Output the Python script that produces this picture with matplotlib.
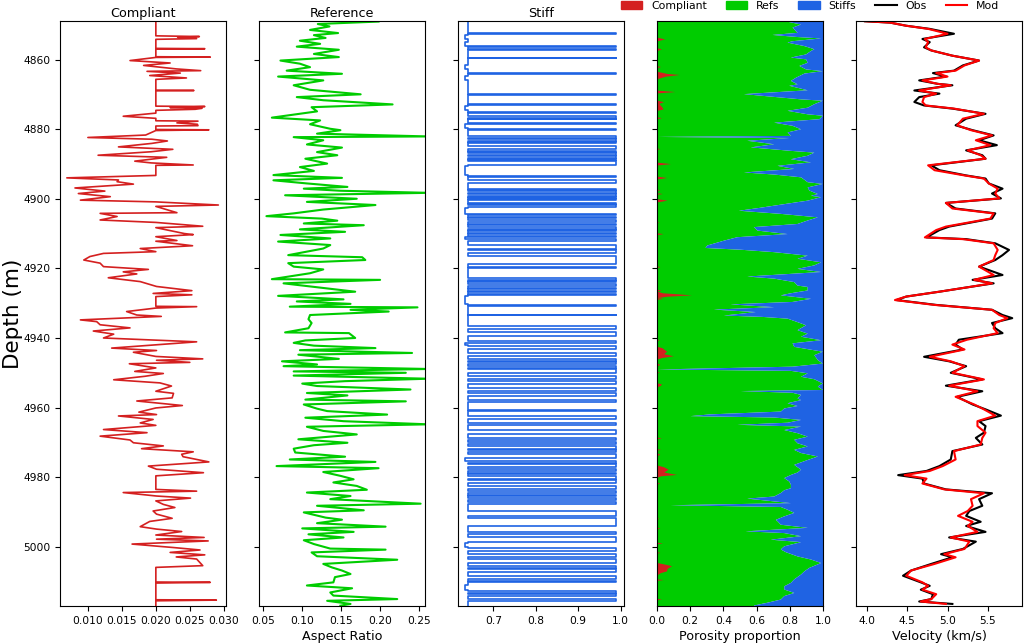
import numpy as np
import matplotlib
matplotlib.use("Agg")
from matplotlib import pyplot as plt
from matplotlib.patches import Patch
from matplotlib.lines import Line2D

# ---- data (depth in m) ----
compliant = [
    (4849.0, 0.0200), (4853.2, 0.0200), (4853.4, 0.0264), (4853.6, 0.0232), (4854.0, 0.0260),
    (4854.2, 0.0200), (4856.8, 0.0200), (4856.9, 0.0272), (4857.0, 0.0200), (4859.2, 0.0200),
    (4859.3, 0.0280), (4859.4, 0.0200), (4860.3, 0.0162), (4861.0, 0.0221), (4861.7, 0.0182),
    (4862.7, 0.0230), (4863.2, 0.0266), (4863.4, 0.0187), (4863.9, 0.0236), (4864.6, 0.0191),
    (4865.3, 0.0245), (4865.7, 0.0200), (4868.8, 0.0200), (4868.9, 0.0256), (4869.0, 0.0200),
    (4873.4, 0.0200), (4873.5, 0.0272), (4873.8, 0.0221), (4874.0, 0.0268), (4874.3, 0.0258),
    (4874.6, 0.0200), (4875.4, 0.0200), (4876.3, 0.0152), (4876.9, 0.0200), (4877.6, 0.0200),
    (4877.7, 0.0262), (4878.2, 0.0231), (4878.6, 0.0261), (4879.0, 0.0262), (4879.1, 0.0200),
    (4880.1, 0.0200), (4880.2, 0.0278), (4880.4, 0.0200), (4881.7, 0.0185), (4882.4, 0.0100),
    (4882.9, 0.0194), (4883.4, 0.0217), (4884.1, 0.0194), (4885.1, 0.0145), (4885.8, 0.0225),
    (4886.5, 0.0193), (4887.5, 0.0115), (4888.1, 0.0216), (4889.2, 0.0169), (4889.7, 0.0193),
    (4890.3, 0.0255), (4890.4, 0.0200), (4893.3, 0.0200), (4894.0, 0.0069), (4894.6, 0.0145),
    (4895.1, 0.0143), (4895.8, 0.0167), (4896.9, 0.0081), (4897.8, 0.0125), (4898.5, 0.0086),
    (4899.4, 0.0133), (4900.4, 0.0089), (4900.9, 0.0200), (4901.8, 0.0292), (4902.2, 0.0200),
    (4904.0, 0.0231), (4904.2, 0.0118), (4905.1, 0.0143), (4906.1, 0.0118), (4906.8, 0.0200),
    (4907.9, 0.0269), (4908.3, 0.0200), (4910.0, 0.0242), (4910.3, 0.0255), (4910.9, 0.0200),
    (4912.0, 0.0231), (4912.2, 0.0200), (4913.5, 0.0254), (4914.3, 0.0177), (4915.2, 0.0200),
    (4915.7, 0.0123), (4916.6, 0.0103), (4917.6, 0.0094), (4918.5, 0.0118), (4919.5, 0.0123),
    (4920.3, 0.0189), (4921.0, 0.0152), (4921.6, 0.0172), (4922.7, 0.0130), (4923.8, 0.0177),
    (4925.2, 0.0201), (4926.4, 0.0253), (4927.2, 0.0196), (4927.6, 0.0253), (4928.1, 0.0200),
    (4930.9, 0.0200), (4931.0, 0.0260), (4931.4, 0.0200), (4932.4, 0.0157), (4933.4, 0.0172),
    (4933.8, 0.0208), (4934.8, 0.0089), (4935.3, 0.0113), (4936.2, 0.0118), (4937.1, 0.0162),
    (4938.0, 0.0108), (4938.9, 0.0138), (4940.0, 0.0123), (4941.1, 0.0260), (4942.9, 0.0135),
    (4943.6, 0.0201), (4944.1, 0.0167), (4945.3, 0.0200), (4946.0, 0.0269), (4946.4, 0.0201),
    (4947.0, 0.0250), (4947.4, 0.0161), (4948.6, 0.0200), (4949.6, 0.0169), (4950.2, 0.0211),
    (4951.0, 0.0184), (4952.0, 0.0138), (4952.9, 0.0206), (4953.8, 0.0223), (4955.3, 0.0200),
    (4955.9, 0.0226), (4957.2, 0.0224), (4958.1, 0.0172), (4959.4, 0.0239), (4960.1, 0.0200),
    (4961.3, 0.0175), (4962.0, 0.0201), (4962.4, 0.0145), (4963.4, 0.0196), (4964.4, 0.0177),
    (4965.1, 0.0200), (4966.3, 0.0123), (4967.2, 0.0187), (4968.2, 0.0118), (4969.3, 0.0162),
    (4970.1, 0.0167), (4971.0, 0.0211), (4971.8, 0.0179), (4972.7, 0.0255), (4973.4, 0.0238),
    (4974.1, 0.0240), (4975.6, 0.0278), (4976.8, 0.0189), (4977.7, 0.0201), (4978.7, 0.0270),
    (4979.6, 0.0200), (4983.5, 0.0200), (4984.0, 0.0260), (4984.4, 0.0152), (4985.4, 0.0201),
    (4986.0, 0.0251), (4986.8, 0.0200), (4987.8, 0.0211), (4988.7, 0.0228), (4989.7, 0.0196),
    (4990.6, 0.0201), (4991.8, 0.0224), (4992.7, 0.0191), (4994.2, 0.0177), (4994.9, 0.0201),
    (4995.6, 0.0238), (4996.6, 0.0200), (4997.3, 0.0271), (4997.8, 0.0201), (4998.3, 0.0277),
    (4999.2, 0.0165), (5000.2, 0.0226), (5000.9, 0.0265), (5001.6, 0.0221), (5002.3, 0.0272),
    (5002.9, 0.0230), (5003.5, 0.0260), (5005.4, 0.0269), (5005.9, 0.0200), (5010.1, 0.0200),
    (5010.2, 0.0280), (5010.4, 0.0200), (5015.2, 0.0200), (5015.3, 0.0289), (5015.5, 0.0200),
    (5017.0, 0.0200),
]

reference = [
    (4849.1, 0.198), (4849.8, 0.120), (4850.5, 0.135), (4851.5, 0.110), (4852.4, 0.146),
    (4853.0, 0.115), (4853.8, 0.130), (4854.6, 0.097), (4855.5, 0.123), (4856.3, 0.093),
    (4857.2, 0.147), (4858.4, 0.115), (4859.3, 0.147), (4860.3, 0.072), (4861.2, 0.097),
    (4862.2, 0.110), (4863.2, 0.080), (4864.1, 0.151), (4864.9, 0.069), (4866.0, 0.127),
    (4867.4, 0.089), (4868.7, 0.110), (4870.0, 0.175), (4870.8, 0.093), (4871.7, 0.127),
    (4872.9, 0.216), (4873.7, 0.112), (4874.9, 0.119), (4876.0, 0.084), (4876.7, 0.061),
    (4877.5, 0.123), (4878.6, 0.110), (4879.9, 0.136), (4880.3, 0.149), (4881.3, 0.119),
    (4882.1, 0.262), (4882.3, 0.089), (4883.2, 0.127), (4884.4, 0.106), (4885.3, 0.151),
    (4886.6, 0.119), (4887.5, 0.145), (4888.5, 0.104), (4889.9, 0.132), (4890.9, 0.097),
    (4892.0, 0.115), (4893.2, 0.063), (4894.0, 0.151), (4894.7, 0.063), (4895.6, 0.106),
    (4896.6, 0.158), (4897.1, 0.102), (4897.7, 0.149), (4898.3, 0.262), (4899.0, 0.078),
    (4900.0, 0.170), (4900.9, 0.106), (4901.8, 0.194), (4903.1, 0.127), (4904.2, 0.089),
    (4905.0, 0.054), (4905.7, 0.125), (4906.3, 0.145), (4907.1, 0.102), (4907.6, 0.179),
    (4908.8, 0.097), (4909.5, 0.155), (4910.4, 0.072), (4911.4, 0.136), (4912.3, 0.069),
    (4913.3, 0.136), (4914.3, 0.127), (4916.2, 0.082), (4916.8, 0.177), (4917.6, 0.181),
    (4918.5, 0.082), (4919.5, 0.089), (4920.3, 0.127), (4921.4, 0.110), (4923.1, 0.061),
    (4923.3, 0.200), (4924.3, 0.076), (4925.7, 0.130), (4926.7, 0.168), (4927.9, 0.069),
    (4928.9, 0.153), (4929.5, 0.093), (4930.2, 0.162), (4931.0, 0.084), (4931.2, 0.248),
    (4931.9, 0.162), (4932.4, 0.211), (4933.4, 0.110), (4934.6, 0.108), (4935.7, 0.112),
    (4937.2, 0.108), (4938.4, 0.078), (4938.6, 0.160), (4940.0, 0.168), (4940.7, 0.104),
    (4941.4, 0.089), (4942.2, 0.115), (4942.9, 0.194), (4943.5, 0.097), (4944.3, 0.241),
    (4944.8, 0.095), (4946.0, 0.147), (4946.7, 0.074), (4947.6, 0.119), (4948.1, 0.076),
    (4948.9, 0.262), (4949.6, 0.089), (4950.0, 0.233), (4950.8, 0.089), (4951.7, 0.262),
    (4952.4, 0.155), (4953.1, 0.100), (4953.8, 0.119), (4954.8, 0.239), (4955.8, 0.106),
    (4956.5, 0.158), (4957.7, 0.104), (4958.2, 0.233), (4959.1, 0.102), (4960.3, 0.119),
    (4961.0, 0.132), (4962.0, 0.209), (4962.9, 0.104), (4963.9, 0.153), (4964.8, 0.262),
    (4965.5, 0.106), (4966.7, 0.127), (4967.7, 0.170), (4969.1, 0.095), (4970.1, 0.158),
    (4970.8, 0.115), (4971.8, 0.089), (4972.9, 0.091), (4974.1, 0.155), (4974.9, 0.084),
    (4975.6, 0.194), (4976.8, 0.067), (4977.4, 0.198), (4978.5, 0.127), (4979.6, 0.149),
    (4980.6, 0.166), (4981.5, 0.140), (4982.5, 0.170), (4983.6, 0.183), (4984.4, 0.106),
    (4985.4, 0.162), (4986.3, 0.136), (4987.6, 0.252), (4988.2, 0.119), (4989.5, 0.179),
    (4990.1, 0.102), (4991.6, 0.130), (4992.2, 0.151), (4993.2, 0.119), (4994.2, 0.207),
    (4994.7, 0.100), (4995.7, 0.166), (4996.4, 0.108), (4997.3, 0.153), (4998.1, 0.102),
    (4999.2, 0.115), (5000.5, 0.136), (5000.8, 0.207), (5001.6, 0.112), (5002.7, 0.119),
    (5003.7, 0.222), (5004.9, 0.127), (5005.9, 0.138), (5006.8, 0.151), (5007.8, 0.162),
    (5008.7, 0.142), (5010.2, 0.140), (5011.1, 0.106), (5011.9, 0.164), (5013.1, 0.136),
    (5014.0, 0.140), (5015.0, 0.222), (5015.5, 0.132), (5016.4, 0.162), (5016.9, 0.149),
]

# stiff aspect ratio: base level, high level and the depth intervals at each
stiff_base = 0.640
stiff_high = 0.990
stiff_low = 0.633
stiff_high_intervals = [
    (4852.4, 4852.7), (4856.2, 4856.4), (4857.1, 4857.4), (4859.5, 4859.7), (4864.0, 4864.2),
    (4870.0, 4870.2), (4872.9, 4873.1), (4875.1, 4875.3), (4876.3, 4876.7), (4877.0, 4877.2),
    (4878.2, 4878.4), (4880.1, 4880.3), (4882.0, 4882.5), (4882.9, 4883.4), (4883.7, 4884.0),
    (4884.9, 4885.6), (4886.2, 4886.5), (4886.9, 4887.3), (4887.8, 4888.3), (4888.6, 4888.8),
    (4889.1, 4890.2), (4893.5, 4893.8), (4894.5, 4895.4), (4897.2, 4897.6), (4897.9, 4898.4),
    (4898.7, 4899.3), (4899.5, 4899.7), (4900.2, 4900.4), (4901.1, 4901.4), (4901.9, 4902.4),
    (4904.5, 4904.8), (4905.1, 4905.6), (4906.0, 4906.6), (4907.2, 4907.5), (4908.0, 4908.6),
    (4909.0, 4909.4), (4909.8, 4910.2), (4910.6, 4910.9), (4911.7, 4912.0), (4913.3, 4914.5),
    (4914.8, 4915.6), (4916.4, 4918.8), (4919.5, 4920.0), (4922.9, 4923.2), (4923.6, 4924.0),
    (4924.5, 4925.1), (4925.5, 4926.0), (4926.4, 4926.9), (4927.3, 4927.6), (4930.4, 4930.7),
    (4933.3, 4933.5), (4936.5, 4937.4), (4938.4, 4939.3), (4941.0, 4941.4), (4942.2, 4943.3),
    (4944.3, 4945.1), (4946.0, 4946.5), (4946.9, 4947.6), (4948.0, 4948.6), (4948.9, 4950.0),
    (4951.0, 4951.9), (4952.4, 4953.1), (4954.3, 4955.3), (4955.8, 4956.7), (4957.7, 4958.4),
    (4960.6, 4961.0), (4962.4, 4963.4), (4964.5, 4965.1), (4966.3, 4967.7), (4968.7, 4969.3),
    (4969.9, 4970.5), (4971.0, 4971.8), (4972.2, 4972.8), (4973.3, 4974.4), (4975.3, 4975.8),
    (4976.3, 4977.0), (4977.5, 4978.3), (4978.7, 4979.0), (4979.6, 4980.4), (4980.8, 4981.6),
    (4982.5, 4983.5), (4984.0, 4984.4), (4985.0, 4985.5), (4986.0, 4986.6), (4987.0, 4987.8),
    (4989.7, 4991.1), (4991.6, 4994.0), (4995.7, 4996.4), (4997.3, 4998.7), (5000.2, 5001.1),
    (5002.1, 5003.0), (5003.5, 5004.5), (5005.4, 5006.0), (5006.5, 5007.3), (5008.3, 5009.3),
    (5009.7, 5010.2), (5012.6, 5013.2), (5013.6, 5014.0), (5015.0, 5015.5),
]
stiff_low_intervals = [
    (4853.1, 4854.1), (4855.0, 4856.0), (4861.7, 4862.7), (4864.6, 4865.8), (4873.3, 4874.6),
    (4878.6, 4879.8), (4890.5, 4893.3), (4902.6, 4904.3), (4911.0, 4911.5), (4928.0, 4930.2),
    (4941.5, 4942.0), (4974.5, 4975.2), (4998.8, 5000.0), (5011.0, 5012.4),
]

# porosity proportion: cumulative compliant + refs fraction (left edge of stiffs)
comp_refs_cum = [
    (4849.0, 0.784), (4849.8, 0.865), (4850.7, 0.814), (4852.2, 0.844), (4852.8, 0.693),
    (4853.4, 0.844), (4853.8, 0.986), (4854.6, 0.814), (4855.0, 0.784), (4856.0, 0.885),
    (4856.9, 0.945), (4857.4, 0.925), (4858.4, 0.895), (4859.3, 0.804), (4859.8, 0.895),
    (4860.8, 0.905), (4861.7, 0.855), (4862.7, 0.895), (4863.2, 0.996), (4863.9, 0.885),
    (4865.1, 0.834), (4866.0, 0.804), (4867.0, 0.844), (4867.4, 0.794), (4868.7, 0.905),
    (4869.8, 0.521), (4870.6, 0.703), (4871.3, 0.865), (4871.7, 0.996), (4872.7, 0.945),
    (4873.7, 0.905), (4874.6, 0.784), (4875.6, 0.905), (4876.0, 0.996), (4877.0, 0.976),
    (4878.0, 0.703), (4878.9, 0.814), (4879.9, 0.865), (4880.8, 0.784), (4881.8, 0.804),
    (4882.1, 0.000), (4882.4, 0.794), (4883.2, 0.541), (4884.2, 0.703), (4885.1, 0.562),
    (4886.1, 0.804), (4886.6, 0.945), (4887.5, 0.905), (4888.5, 0.804), (4889.4, 0.925),
    (4890.4, 0.723), (4891.3, 0.824), (4892.3, 0.521), (4892.9, 0.703), (4893.7, 0.865),
    (4895.1, 0.905), (4895.6, 0.996), (4896.6, 0.905), (4897.5, 0.915), (4898.5, 0.966),
    (4899.0, 0.925), (4899.4, 0.986), (4900.4, 0.905), (4901.4, 0.764), (4902.5, 0.612),
    (4903.3, 0.491), (4904.2, 0.743), (4905.2, 0.966), (4906.1, 0.905), (4907.1, 0.844),
    (4908.0, 0.582), (4909.0, 0.602), (4910.0, 0.784), (4910.9, 0.481), (4911.9, 0.400),
    (4913.3, 0.299), (4914.0, 0.289), (4914.5, 0.501), (4915.2, 0.703), (4916.2, 0.905),
    (4917.1, 0.844), (4918.1, 0.986), (4919.0, 0.945), (4920.0, 0.844), (4920.9, 0.986),
    (4922.2, 0.541), (4922.8, 0.703), (4923.8, 0.824), (4924.8, 0.844), (4925.2, 0.905),
    (4926.2, 0.905), (4927.0, 0.804), (4927.6, 0.743), (4928.6, 0.925), (4929.5, 0.814),
    (4930.2, 0.440), (4931.0, 0.703), (4931.7, 0.339), (4932.4, 0.592), (4932.9, 0.501),
    (4933.4, 0.400), (4933.8, 0.632), (4934.3, 0.784), (4935.3, 0.844), (4936.2, 0.895),
    (4937.6, 0.844), (4938.6, 0.905), (4939.5, 0.865), (4940.5, 0.986), (4941.4, 0.814),
    (4942.4, 0.824), (4943.8, 0.996), (4944.8, 0.945), (4946.2, 0.966), (4947.2, 0.996),
    (4948.1, 0.814), (4948.9, 0.000), (4949.3, 0.804), (4950.0, 0.905), (4951.0, 0.865),
    (4951.7, 0.945), (4952.9, 0.996), (4953.8, 0.966), (4954.8, 0.996), (4955.1, 0.501),
    (4955.6, 0.814), (4956.2, 0.865), (4957.2, 0.844), (4957.7, 0.865), (4958.6, 0.784),
    (4959.4, 0.844), (4960.1, 0.764), (4961.0, 0.743), (4961.8, 0.319), (4962.3, 0.198),
    (4962.7, 0.703), (4963.4, 0.865), (4964.2, 0.784), (4964.8, 0.481), (4965.3, 0.865),
    (4966.3, 0.764), (4967.2, 0.844), (4968.2, 0.905), (4969.1, 0.824), (4970.1, 0.844),
    (4971.0, 0.905), (4972.0, 0.824), (4972.9, 0.865), (4973.9, 0.966), (4974.9, 0.905),
    (4976.3, 0.824), (4977.7, 0.865), (4978.5, 0.844), (4979.2, 0.804), (4980.1, 0.764),
    (4981.1, 0.794), (4982.0, 0.804), (4983.0, 0.804), (4983.6, 0.764), (4984.4, 0.743),
    (4985.4, 0.703), (4986.0, 0.541), (4986.8, 0.703), (4987.3, 0.804), (4987.9, 0.077),
    (4988.4, 0.743), (4989.2, 0.784), (4990.1, 0.824), (4991.1, 0.764), (4992.1, 0.713),
    (4992.5, 0.723), (4993.5, 0.743), (4994.4, 0.905), (4995.4, 0.531), (4995.9, 0.764),
    (4996.8, 0.865), (4997.8, 0.683), (4998.5, 0.865), (4999.7, 0.764), (5000.6, 0.743),
    (5001.4, 0.774), (5002.6, 0.844), (5003.5, 0.925), (5004.5, 0.986), (5005.9, 0.915),
    (5006.9, 0.885), (5007.8, 0.865), (5009.2, 0.824), (5010.2, 0.804), (5011.2, 0.764),
    (5012.1, 0.764), (5013.1, 0.824), (5014.0, 0.764), (5015.0, 0.743), (5015.9, 0.663),
    (5016.7, 0.582), (5017.0, 0.580),
]

comp_frac = [
    (4849.0, 0.0), (4853.6, 0.0), (4854.1, 0.046), (4854.6, 0.0), (4856.6, 0.0), (4857.0, 0.026),
    (4857.4, 0.0), (4861.8, 0.0), (4862.0, 0.020), (4862.3, 0.0), (4863.4, 0.0), (4864.0, 0.060),
    (4864.3, 0.133), (4864.8, 0.050), (4865.5, 0.0), (4868.8, 0.0), (4869.2, 0.107), (4869.6, 0.0),
    (4871.7, 0.0), (4872.1, 0.040), (4872.6, 0.010), (4873.7, 0.030), (4874.2, 0.036), (4874.6, 0.0),
    (4876.5, 0.0), (4876.7, 0.026), (4877.0, 0.0), (4885.4, 0.0), (4885.6, 0.016), (4885.8, 0.0),
    (4889.5, 0.0), (4889.9, 0.081), (4890.3, 0.0), (4893.5, 0.0), (4893.9, 0.057), (4894.3, 0.0),
    (4897.2, 0.0), (4897.4, 0.016), (4897.6, 0.0), (4898.3, 0.0), (4898.5, 0.032), (4898.7, 0.0),
    (4900.0, 0.0), (4900.4, 0.061), (4900.9, 0.0), (4906.5, 0.0), (4906.6, 0.010), (4906.8, 0.0),
    (4909.8, 0.0), (4910.0, 0.036), (4910.3, 0.0), (4919.3, 0.0), (4919.5, 0.016), (4919.7, 0.0),
    (4926.0, 0.0), (4926.2, 0.026), (4926.5, 0.0), (4927.0, 0.030), (4927.6, 0.208), (4928.0, 0.060),
    (4928.4, 0.0), (4928.6, 0.036), (4928.9, 0.0), (4940.3, 0.0), (4940.5, 0.012), (4940.7, 0.0),
    (4942.4, 0.0), (4942.8, 0.030), (4943.8, 0.057), (4944.5, 0.040), (4945.1, 0.097), (4945.6, 0.030),
    (4946.0, 0.0), (4947.2, 0.0), (4947.6, 0.016), (4948.0, 0.0), (4949.6, 0.0), (4949.8, 0.012),
    (4950.0, 0.0), (4952.9, 0.0), (4953.2, 0.026), (4953.6, 0.020), (4954.0, 0.0), (4968.5, 0.0),
    (4968.7, 0.026), (4968.9, 0.0), (4971.8, 0.0), (4972.0, 0.020), (4972.2, 0.0), (4973.0, 0.0),
    (4973.4, 0.016), (4973.8, 0.0), (4976.5, 0.0), (4977.0, 0.040), (4977.7, 0.067), (4978.5, 0.040),
    (4979.2, 0.117), (4979.6, 0.020), (4980.0, 0.0), (4981.5, 0.0), (4981.7, 0.016), (4981.9, 0.0),
    (4991.6, 0.0), (4991.8, 0.010), (4992.0, 0.0), (4994.4, 0.0), (4994.6, 0.016), (4994.8, 0.0),
    (4998.7, 0.0), (4998.9, 0.032), (4999.1, 0.0), (5001.4, 0.0), (5001.6, 0.016), (5001.8, 0.0),
    (5004.5, 0.0), (5005.0, 0.050), (5005.4, 0.087), (5006.2, 0.060), (5006.9, 0.057), (5007.4, 0.020),
    (5008.0, 0.0), (5009.2, 0.0), (5009.4, 0.036), (5009.6, 0.0), (5014.8, 0.0), (5015.0, 0.026),
    (5015.2, 0.0), (5017.0, 0.0),
]

# velocity: depth, observed, modelled (km/s)
velocity = [
    (4849.0, 3.98, 3.98), (4849.4, 4.29, 4.29), (4850.3, 4.49, 4.49), (4851.2, 4.78, 4.76),
    (4852.6, 5.08, 5.00), (4854.1, 4.69, 4.72), (4855.0, 4.78, 4.76), (4856.5, 4.71, 4.73),
    (4857.4, 4.80, 4.80), (4858.9, 5.06, 5.06), (4860.3, 5.39, 5.39), (4861.7, 5.19, 5.21),
    (4863.2, 5.08, 5.10), (4863.9, 4.82, 4.86), (4864.9, 4.98, 5.00), (4866.0, 4.65, 4.69),
    (4867.0, 4.88, 4.88), (4867.4, 5.06, 5.04), (4868.9, 4.59, 4.65), (4869.8, 4.90, 4.86),
    (4870.8, 4.65, 4.71), (4872.2, 4.59, 4.69), (4873.2, 4.71, 4.73), (4874.1, 5.06, 5.08),
    (4875.6, 5.47, 5.45), (4877.0, 5.23, 5.19), (4878.9, 5.10, 5.12), (4880.3, 5.31, 5.29),
    (4881.8, 5.57, 5.55), (4883.2, 5.39, 5.35), (4884.6, 5.61, 5.53), (4886.1, 5.23, 5.25),
    (4887.5, 5.43, 5.41), (4888.5, 5.47, 5.47), (4890.4, 4.80, 4.76), (4891.8, 4.90, 4.84),
    (4893.3, 5.23, 5.21), (4894.2, 5.47, 5.45), (4895.6, 5.51, 5.51), (4897.1, 5.68, 5.62),
    (4898.5, 5.55, 5.59), (4899.9, 5.66, 5.64), (4901.2, 4.98, 4.98), (4902.8, 5.10, 5.06),
    (4904.2, 5.59, 5.57), (4905.7, 5.55, 5.53), (4908.0, 5.02, 4.98), (4909.0, 4.90, 4.86),
    (4911.1, 4.74, 4.72), (4911.6, 5.23, 5.19), (4912.8, 5.59, 5.57), (4914.7, 5.76, 5.62),
    (4916.2, 5.68, 5.59), (4917.6, 5.59, 5.57), (4919.5, 5.39, 5.39), (4921.9, 5.68, 5.57),
    (4923.3, 5.31, 5.33), (4924.3, 5.57, 5.55), (4925.5, 5.23, 5.23), (4926.7, 4.90, 4.90),
    (4928.1, 4.49, 4.49), (4929.1, 4.37, 4.35), (4930.5, 4.86, 4.84), (4931.9, 5.55, 5.55),
    (4933.4, 5.68, 5.64), (4934.3, 5.80, 5.74), (4935.7, 5.55, 5.59), (4937.2, 5.59, 5.57),
    (4938.6, 5.68, 5.62), (4940.5, 5.14, 5.24), (4941.9, 5.10, 5.06), (4943.3, 5.19, 5.21),
    (4945.4, 4.71, 4.78), (4946.7, 5.02, 5.04), (4948.1, 5.23, 5.21), (4950.0, 5.04, 5.06),
    (4951.9, 5.43, 5.45), (4953.7, 4.98, 5.02), (4955.3, 5.43, 5.37), (4956.9, 5.12, 5.10),
    (4959.1, 5.31, 5.33), (4960.5, 5.47, 5.45), (4962.3, 5.66, 5.59), (4963.9, 5.39, 5.37),
    (4965.3, 5.47, 5.37), (4967.2, 5.45, 5.47), (4968.7, 5.35, 5.43), (4970.6, 5.43, 5.41),
    (4972.5, 5.06, 5.08), (4974.9, 5.04, 5.10), (4976.8, 4.90, 4.94), (4978.2, 4.74, 4.78),
    (4979.4, 4.39, 4.47), (4980.4, 4.69, 4.74), (4981.8, 4.71, 4.69), (4983.5, 4.98, 4.96),
    (4984.6, 5.55, 5.45), (4986.3, 5.39, 5.29), (4988.2, 5.43, 5.31), (4989.7, 5.27, 5.25),
    (4991.1, 5.23, 5.13), (4992.8, 5.41, 5.31), (4994.0, 5.23, 5.25), (4995.7, 5.47, 5.37),
    (4997.3, 5.02, 5.04), (4998.5, 5.35, 5.27), (5000.6, 5.19, 5.21), (5002.1, 4.92, 4.96),
    (5003.0, 5.06, 5.10), (5004.9, 4.80, 4.84), (5006.8, 4.55, 4.55), (5008.3, 4.45, 4.49),
    (5010.2, 4.67, 4.69), (5011.2, 4.78, 4.76), (5012.3, 4.67, 4.69), (5013.6, 4.82, 4.86),
    (5015.0, 4.80, 4.80), (5015.7, 4.65, 4.67), (5016.4, 5.06, 4.98),
]

RED = "#d42020"
GREEN = "#00cc00"
BLUE = "#1f63e3"

comp_d, comp_v = np.array(compliant).T
ref_d, ref_v = np.array(reference).T
cum_d, cum_v = np.array(comp_refs_cum).T
cf_d, cf_v = np.array(comp_frac).T
vel_d, vel_obs, vel_mod = np.array(velocity).T

# step curve for stiff panel
segs = sorted([(t, b, stiff_high) for t, b in stiff_high_intervals] +
              [(t, b, stiff_low) for t, b in stiff_low_intervals])
st_d = [4849.0]
st_v = [stiff_base]
for t, b, lvl in segs:
    st_d += [t, t, b, b]
    st_v += [stiff_base, lvl, lvl, stiff_base]
st_d.append(5017.0)
st_v.append(stiff_base)

fig, axes = plt.subplots(1, 5, sharey=True, figsize=(10.24, 6.43), dpi=100)
fig.subplots_adjust(left=0.0586, right=0.998, top=0.967, bottom=0.0575, wspace=0.2)

ax1, ax2, ax3, ax4, ax5 = axes
TFS = 9.2

ax1.plot(comp_v, comp_d, color=RED, lw=1.2)
ax1.set_title("Compliant", fontsize=TFS, pad=3)
ax1.set_xlim(0.0059, 0.0303)
ax1.set_xticks([0.010, 0.015, 0.020, 0.025, 0.030])
ax1.set_ylabel("Depth (m)", fontsize=15.5)
ax1.yaxis.set_label_coords(-0.225, 0.5)

ax2.plot(ref_v, ref_d, color=GREEN, lw=1.5)
ax2.set_title("Reference", fontsize=TFS, pad=3)
ax2.set_xlim(0.0445, 0.2575)
ax2.set_xticks([0.05, 0.10, 0.15, 0.20, 0.25])
ax2.set_xlabel("Aspect Ratio", fontsize=TFS, labelpad=3)

ax3.plot(st_v, st_d, color=BLUE, lw=1.2)
ax3.set_title("Stiff", fontsize=TFS, pad=3)
ax3.set_xlim(0.617, 1.008)
ax3.set_xticks([0.7, 0.8, 0.9, 1.0])

ax4.fill_betweenx(cum_d, 0, cum_v, color=GREEN, lw=0)
ax4.fill_betweenx(cum_d, cum_v, 1, color=BLUE, lw=0)
ax4.fill_betweenx(cf_d, 0, cf_v, color=RED, lw=0)
ax4.set_xlim(0, 1)
ax4.set_xticks([0.0, 0.2, 0.4, 0.6, 0.8, 1.0])
ax4.set_xlabel("Porosity proportion", fontsize=TFS, labelpad=3)

ax5.plot(vel_obs, vel_d, color="black", lw=1.5)
ax5.plot(vel_mod, vel_d, color="red", lw=1.5)
ax5.set_xlim(3.87, 5.92)
ax5.set_xticks([4.0, 4.5, 5.0, 5.5])
ax5.set_xlabel("Velocity (km/s)", fontsize=TFS, labelpad=3)

ax1.set_ylim(5017, 4849)
ax1.set_yticks([4860, 4880, 4900, 4920, 4940, 4960, 4980, 5000])
for ax in axes:
    ax.tick_params(labelsize=7.7)

handles = [Patch(color=RED), Patch(color=GREEN), Patch(color=BLUE),
           Line2D([], [], color="black", lw=1.5), Line2D([], [], color="red", lw=1.5)]
fig.legend(handles, ["Compliant", "Refs", "Stiffs", "Obs", "Mod"], ncol=5, frameon=False,
           loc="upper left", bbox_to_anchor=(620 / 1024, 1.0), fontsize=7.8,
           handlelength=2.0, handletextpad=0.8, columnspacing=1.75,
           borderpad=0.05, borderaxespad=0)

fig.savefig("out.png", dpi=100)
